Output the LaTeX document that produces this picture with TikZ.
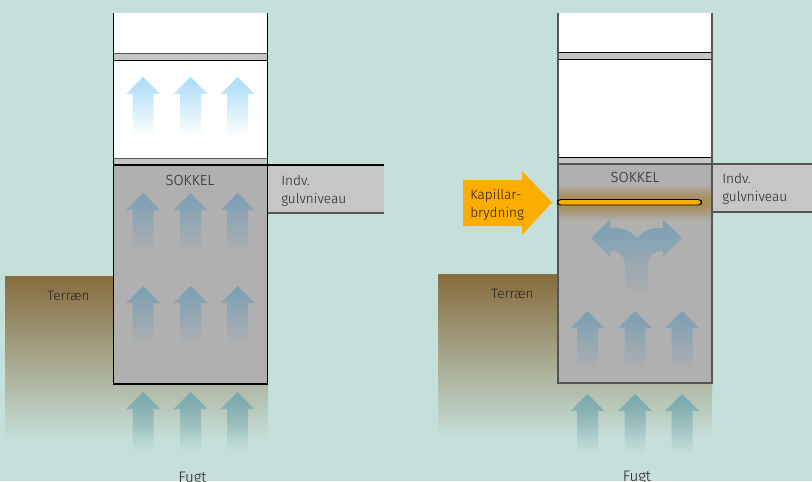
\documentclass[tikz,border=0pt]{standalone}
\usepackage{fontspec}
\setmainfont{Fira Sans Light}
\usetikzlibrary{fadings}
\definecolor{bgc}{HTML}{C5DFDA}
\definecolor{sokkelc}{HTML}{B0B0B0}
\definecolor{floorc}{HTML}{C6C6C6}
\definecolor{earthc}{HTML}{866C3C}
\definecolor{glowc}{HTML}{A78F62}
\definecolor{orangec}{HTML}{FBAE00}
\definecolor{airc}{HTML}{A9DCF7}
\definecolor{wallc}{HTML}{7A9FB5}
\definecolor{soilc}{HTML}{76A9AF}
\definecolor{darkl}{HTML}{555555}
\definecolor{txtc}{HTML}{222222}
\tikzfading[name=upfade, top color=transparent!0, bottom color=transparent!100]
\tikzset{
  band/.style={fill=floorc,draw=none},
  lbl/.style={anchor=base west,inner sep=0pt,text=txtc,font=\fontsize{10.2}{12}\selectfont},
  lblc/.style={anchor=base,inner sep=0pt,text=txtc,font=\fontsize{11}{12}\selectfont},
  lblf/.style={anchor=base west,inner sep=0pt,text=txtc,font=\fontsize{11.4}{12}\selectfont},
  moist/.style={fill=#1,draw=none,path fading=upfade},
}
\newcommand{\moistarrow}[3]{% centre x, tip y, colour
  \path[moist=#3] (#1,#2) -- (#1+17,#2+17) -- (#1+10.5,#2+17) -- (#1+10.5,#2+59)
     -- (#1-10.5,#2+59) -- (#1-10.5,#2+17) -- (#1-17,#2+17) -- cycle;
}
\begin{document}
\begin{tikzpicture}[x=0.75pt,y=-0.75pt]
\useasboundingbox (0,0) rectangle (812,481);
\fill[bgc] (0,0) rectangle (812,481);

% ---------- left ----------
\shade[top color=earthc,bottom color=bgc] (5,276) -- (113,276) -- (113,384) -- (268,384) -- (268,440) -- (5,440) -- cycle;
\fill[white] (113.5,13) rectangle (267.5,165);
\fill[band] (113.5,53.5) rectangle (267.5,60.5);
\fill[band] (113.5,158.5) rectangle (267.5,165);
\fill[sokkelc] (113.5,165) rectangle (267.5,384);
\fill[floorc] (268,165) rectangle (384,213);
\foreach \xc in {143,190.5,237.5}{
  \moistarrow{\xc}{77}{airc}
  \moistarrow{\xc}{193}{wallc}
  \moistarrow{\xc}{286}{wallc}
  \moistarrow{\xc}{392}{soilc}
}
\draw[line width=1.2pt,darkl] (113.5,53.5) -- (267.5,53.5) (113.5,158.5) -- (267.5,158.5);
\draw[line width=0.8pt,black] (113.5,60.5) -- (267.5,60.5) (113.5,165) -- (384,165);
\draw[line width=0.8pt,darkl] (268,213) -- (384,213);
\draw[line width=0.8pt,black] (113.5,13) -- (113.5,384) -- (267.5,384) -- (267.5,13);
\node[lblc] (sokkelL) at (190,185) {SOKKEL};
\node[lbl] (indvL) at (281,185) {Indv.};
\node[lbl] (gulvL) at (281,203) {gulvniveau};
\node[lbl] (terrL) at (47,300.5) {Terræn};
\node[lblf] (fugtL) at (178,482.5) {Fugt};

% ---------- right ----------
\shade[top color=earthc,bottom color=bgc] (438,274) -- (558,274) -- (558,383) -- (712,383) -- (712,438) -- (438,438) -- cycle;
\fill[white] (558,13) rectangle (712,164);
\fill[band] (558,52.5) rectangle (712,59.5);
\fill[band] (558,157.5) rectangle (712,164);
\fill[sokkelc] (558,164) rectangle (712,383);
\shade[top color=sokkelc,bottom color=glowc] (558,184) rectangle (712,197);
\fill[glowc] (558,196.8) rectangle (712,207.2);
\shade[top color=glowc,bottom color=sokkelc] (558,207) rectangle (712,221);
\fill[floorc] (713,164) rectangle (812,212);
\foreach \xc in {587.5,635,682}{
  \moistarrow{\xc}{311}{wallc}
  \moistarrow{\xc}{394}{soilc}
}
\path[moist=wallc] (591,238) -- (610,220) -- (610,228)
  .. controls (622,227) and (631,231) .. (637,238)
  .. controls (643,231) and (652,227) .. (663,228)
  -- (663,220) -- (682,238) -- (663,257) -- (663,251)
  .. controls (654,251) and (648,256) .. (648,265)
  -- (648,296) -- (625,296) -- (625,265)
  .. controls (625,256) and (619,251) .. (610,251)
  -- (610,257) -- cycle;
\draw[line width=0.8pt,black] (558,52.5) -- (712,52.5) (558,59.5) -- (712,59.5) (558,157.5) -- (712,157.5);
\draw[line width=0.9pt,darkl] (558,164) -- (812,164) (713,212) -- (812,212);
\draw[line width=0.9pt,darkl] (558,13) -- (558,383) -- (712,383) -- (712,13);
\path[fill=orangec,draw=black,line width=0.7pt,rounded corners=2.5pt] (557.5,199.5) -- (701.5,199.5) -- (701.5,205) -- (557.5,205) -- cycle;
\node[lblc] (sokkelR) at (635,182) {SOKKEL};
\node[lbl] (indvR) at (722,183.5) {Indv.};
\node[lbl] (gulvR) at (722,201) {gulvniveau};
\node[lbl] (terrR) at (491,298) {Terræn};
\node[lblf] (fugtR) at (622.5,481) {Fugt};
\fill[orangec] (463,180) -- (522,180) -- (522,171) -- (552,202.5) -- (522,235) -- (522,226) -- (463,226) -- cycle;
\node[lbl,text=black!85!orangec] (kapA) at (470,199) {Kapillar-};
\node[lbl,text=black!85!orangec] (kapB) at (470,217) {brydning};
\end{tikzpicture}
\end{document}
